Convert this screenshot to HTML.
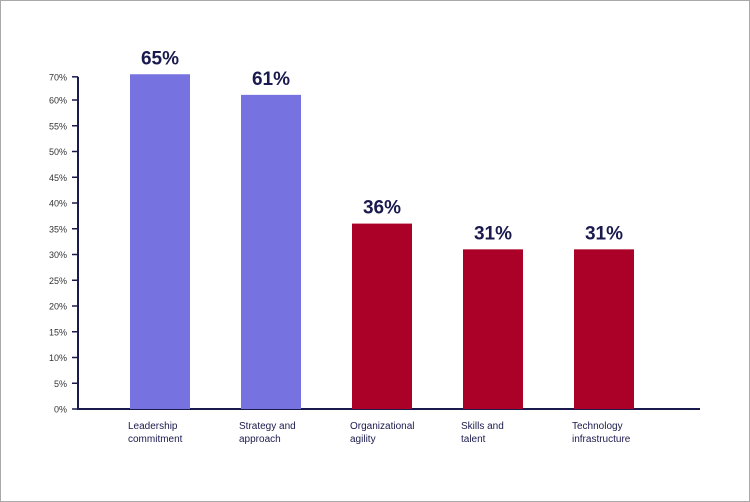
<!DOCTYPE html>
<html><head><meta charset="utf-8"><style>
body{margin:0;background:#fff}
#wrap{position:relative;width:748px;height:500px;border:1px solid #a9a9a9;background:#fff;overflow:hidden}
svg{position:absolute;left:-1px;top:-1px}
</style></head><body>
<div id="wrap">
<svg id="chart" width="750" height="502"></svg>
</div>
<script>
const categories=[["Leadership","commitment"],["Strategy and","approach"],["Organizational","agility"],["Skills and","talent"],["Technology","infrastructure"]];
const values=[65,61,36,31,31];
const valueLabels=["65%","61%","36%","31%","31%"];
const colors=["#7672e0","#7672e0","#ab0027","#ab0027","#ab0027"];
const tickValues=[0,5,10,15,20,25,30,35,40,45,50,55,60,64.5];
const tickLabels=["0%","5%","10%","15%","20%","25%","30%","35%","40%","45%","50%","55%","60%","70%"];
const NS="http://www.w3.org/2000/svg";
const svg=document.getElementById('chart');
const y0=409,pxPer=5.15,axisX=78;
const y=v=>y0-v*pxPer;
const x=i=>130+i*111;
function mk(t,a){const e=document.createElementNS(NS,t);for(const k in a)e.setAttribute(k,a[k]);svg.appendChild(e);return e;}
const ax=mk('line',{x1:axisX,y1:y(64.5),x2:axisX,y2:y0+1,stroke:'#1a1a4e','stroke-width':2});


const bx=mk('line',{x1:axisX-1,y1:y0,x2:700,y2:y0,stroke:'#1a1a4e','stroke-width':2});


tickValues.forEach((v,i)=>{
 const t=mk('line',{x1:axisX-6,y1:y(v),x2:axisX,y2:y(v),stroke:'#1a1a4e','stroke-width':1.5});
 
 
 const l=mk('text',{x:axisX-11,y:y(v)+3.5,'text-anchor':'end','font-size':9,fill:'#333','font-family':'Liberation Sans, sans-serif'});
 l.textContent=tickLabels[i];
 
 
});
values.forEach((v,i)=>{
 const b=mk('rect',{x:x(i),y:y(v),width:60,height:y0-y(v),fill:colors[i]});
 
 
 const vl=mk('text',{x:x(i)+30,y:y(v)-10,'text-anchor':'middle','font-size':19,'font-weight':'bold',fill:'#1a1a4e','font-family':'Liberation Sans, sans-serif'});
 vl.textContent=valueLabels[i];
 
 
 categories[i].forEach((line,j)=>{
  const c=mk('text',{x:x(i)-2,y:429+j*13,'font-size':10,fill:'#1a1a4e','font-family':'Liberation Sans, sans-serif'});
  c.textContent=line;
  
  
 });
});
</script>
</body></html>
